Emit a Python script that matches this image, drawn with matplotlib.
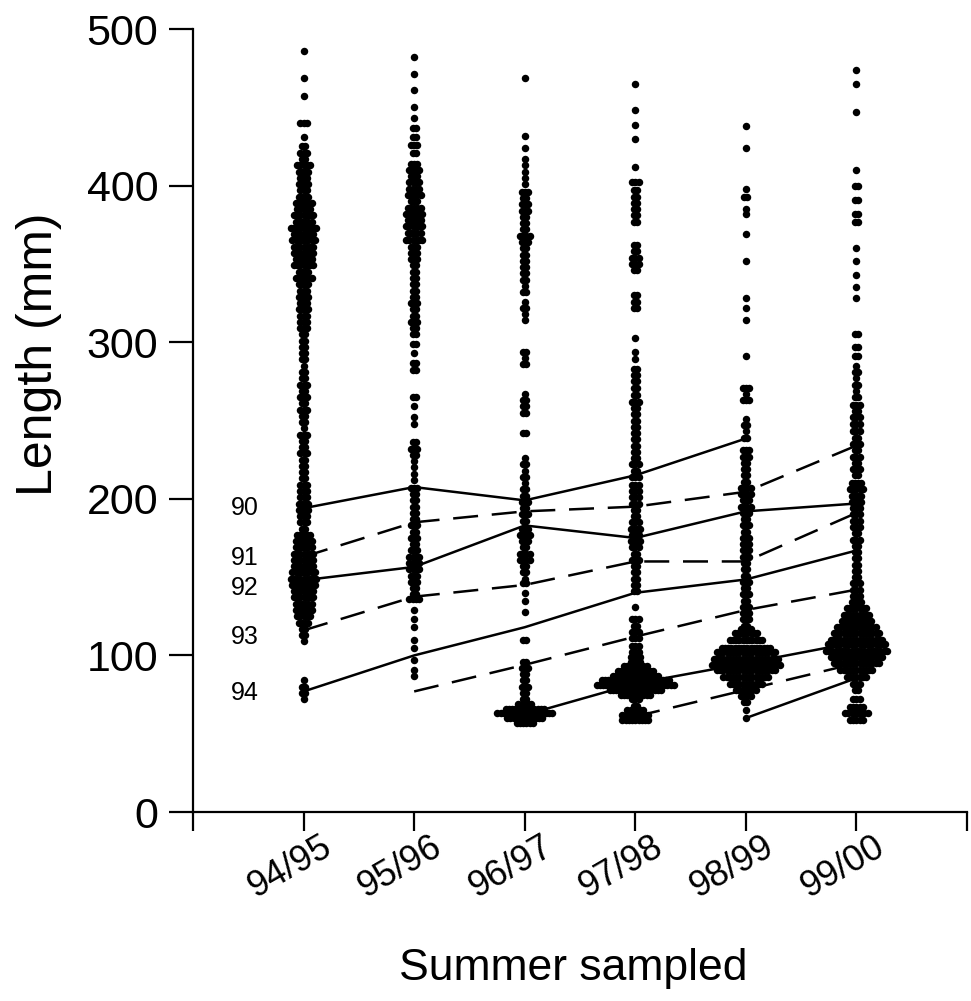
import numpy as np
import matplotlib.pyplot as plt
from matplotlib.transforms import ScaledTranslation

plt.rcParams["font.family"] = ["Liberation Sans", "DejaVu Sans"]

summers = ["94/95", "95/96", "96/97", "97/98", "98/99", "99/00"]

# Length-frequency rows per summer: (length in mm, number of fish at that length)
rows_9495 = [
    (486, 1), (469, 1), (457, 1), (440, 3), (431, 1),
    (425, 2), (421, 3), (417, 2), (413, 5), (409, 4), (405, 3), (401, 4), (397, 3),
    (393, 4), (389, 6), (385, 5), (381, 7), (377, 6), (373, 9), (369, 7), (365, 8),
    (361, 7), (357, 7), (353, 6), (349, 7), (345, 4), (341, 6), (337, 4), (333, 3),
    (329, 4), (325, 3), (321, 4), (317, 3), (313, 3), (309, 3), (305, 2), (301, 2),
    (297, 2), (293, 2), (289, 2), (285, 1), (281, 2), (277, 2), (273, 3), (269, 2),
    (265, 3), (261, 2), (257, 3), (253, 2), (249, 2), (245, 1), (241, 3), (237, 2),
    (233, 2), (229, 3), (225, 2), (221, 2), (217, 2), (213, 2), (209, 3), (205, 3),
    (201, 3), (197, 4), (193, 4), (189, 3), (185, 3), (181, 2), (177, 5), (173, 6),
    (169, 6), (165, 7), (161, 7), (157, 7), (153, 8), (149, 9), (145, 8), (141, 7),
    (137, 7), (133, 6), (129, 6), (125, 5), (121, 4), (117, 2), (113, 2), (109, 1),
    (84, 1), (80, 2), (76, 2), (72, 1),
]
rows_9596 = [
    (482, 1), (471, 1), (461, 1), (450, 1), (443, 1), (437, 2), (431, 2), (426, 3),
    (421, 2), (414, 3), (410, 4), (406, 3), (402, 4), (398, 4), (394, 5), (390, 3),
    (386, 5), (382, 6), (378, 5), (374, 6), (370, 5), (365, 6), (361, 3), (357, 3),
    (353, 3), (349, 2), (345, 2), (341, 2), (337, 2), (333, 2), (329, 2), (325, 3),
    (321, 2), (317, 2), (313, 3), (309, 2), (305, 2), (299, 2), (293, 1), (287, 2),
    (282, 2), (265, 2), (259, 1), (252, 1), (248, 1), (236, 2), (232, 3), (228, 2),
    (224, 1), (220, 1), (216, 1), (212, 1), (207, 3), (203, 2), (199, 2), (195, 2),
    (191, 2), (187, 2), (183, 3), (179, 2), (175, 3), (171, 2), (167, 3), (163, 4),
    (159, 4), (155, 4), (151, 3), (147, 3), (143, 2), (139, 2), (136, 4), (129, 1),
    (123, 1), (118, 1), (110, 1), (105, 1), (97, 1), (91, 1), (87, 1),
]
rows_9697 = [
    (469, 1), (432, 1), (424, 1), (417, 1), (413, 1), (409, 1), (405, 1), (401, 1),
    (396, 3), (392, 2), (388, 3), (384, 3), (380, 2), (376, 2), (372, 2), (368, 4),
    (364, 3), (360, 2), (356, 2), (352, 2), (348, 2), (344, 2), (340, 2), (336, 1),
    (332, 2), (326, 1), (322, 2), (318, 1), (314, 1), (294, 2), (290, 1), (286, 2),
    (267, 1), (263, 2), (259, 2), (255, 2), (242, 2), (226, 1), (222, 2), (218, 1),
    (214, 2), (210, 1), (206, 2), (202, 2), (198, 3), (194, 2), (190, 3), (186, 2),
    (181, 3), (177, 4), (173, 3), (169, 2), (165, 4), (161, 4), (157, 2), (153, 2),
    (149, 1), (146, 2), (140, 1), (135, 1), (128, 1), (110, 2), (96, 2), (92, 3),
    (88, 2), (84, 2), (80, 3), (76, 2), (72, 2), (69, 5), (66, 13), (63, 18),
    (60, 12), (57, 6),
]
rows_9798 = [
    (465, 1), (448, 1), (439, 1), (430, 1), (412, 1), (402, 3), (397, 2), (393, 2),
    (389, 2), (385, 2), (381, 2), (377, 2), (362, 2), (358, 2), (354, 3), (350, 3),
    (346, 2), (330, 2), (326, 2), (322, 2), (303, 1), (294, 1), (289, 1), (283, 2),
    (279, 2), (275, 2), (271, 2), (266, 2), (262, 3), (258, 2), (254, 2), (250, 2),
    (246, 2), (242, 2), (238, 2), (234, 2), (230, 2), (226, 2), (222, 3), (218, 2),
    (214, 3), (209, 3), (205, 3), (201, 3), (197, 3), (193, 2), (189, 2), (185, 3),
    (181, 4), (177, 3), (173, 4), (169, 3), (165, 2), (161, 3), (157, 2), (153, 2),
    (149, 2), (145, 2), (141, 2), (131, 1), (123, 3), (119, 2), (115, 3), (111, 3),
    (106, 3), (102, 3), (99, 4), (96, 4), (93, 8), (90, 12), (87, 15), (84, 22),
    (81, 25), (78, 17), (75, 10), (72, 3), (68, 2), (65, 6), (62, 9), (59, 9),
]
rows_9899 = [
    (438, 1), (424, 1), (398, 1), (393, 2), (385, 1), (382, 1), (369, 1), (352, 1),
    (328, 1), (322, 1), (314, 1), (291, 1), (271, 3), (267, 1), (263, 3), (251, 1),
    (247, 2), (243, 1), (239, 2), (231, 3), (227, 3), (223, 2), (219, 2), (215, 2),
    (211, 2), (207, 4), (203, 4), (199, 3), (195, 4), (191, 3), (187, 2), (183, 3),
    (179, 2), (175, 3), (171, 3), (167, 3), (163, 3), (159, 2), (155, 2), (151, 2),
    (147, 3), (143, 2), (139, 3), (135, 2), (131, 3), (127, 3), (123, 3), (119, 2),
    (117, 4), (114, 8), (110, 11), (105, 16), (102, 19), (98, 21), (94, 22), (91, 19),
    (86, 15), (82, 11), (78, 7), (74, 4), (70, 2), (65, 1), (60, 1),
]
rows_9900 = [
    (474, 1), (465, 1), (447, 1), (410, 1), (400, 2), (391, 2), (382, 2), (377, 2),
    (360, 1), (352, 1), (343, 1), (335, 1), (328, 1), (305, 2), (297, 2), (291, 2),
    (285, 1), (281, 2), (277, 1), (273, 2), (269, 1), (265, 2), (260, 3), (256, 2),
    (252, 3), (248, 3), (243, 3), (239, 2), (235, 3), (231, 2), (227, 3), (223, 2),
    (219, 3), (215, 2), (210, 4), (206, 5), (202, 4), (198, 4), (194, 3), (190, 3),
    (186, 3), (182, 3), (178, 2), (174, 3), (170, 2), (166, 2), (162, 2), (158, 2),
    (154, 2), (150, 2), (146, 3), (142, 3), (138, 3), (134, 4), (130, 7), (126, 9),
    (122, 10), (118, 13), (114, 15), (110, 17), (107, 19), (103, 20), (99, 17),
    (95, 15), (91, 11), (86, 7), (82, 3), (78, 2), (72, 3), (67, 5), (63, 8), (59, 5),
]
all_rows = [rows_9495, rows_9596, rows_9697, rows_9798, rows_9899, rows_9900]

# Mean length of each year class, from the summer it first appears
cohorts = ["90", "91", "92", "93", "94", "95", "96", "97", "98"]
first_summer = [0, 0, 0, 0, 0, 1, 2, 3, 4]
mean_90 = [194, 207.5, 199, 215, 238.5]
mean_91 = [163, 185, 192, 195, 204.5, 234]
mean_92 = [148, 156.5, 183, 175, 192, 197]
mean_93 = [116, 137.5, 145, 160, 160, 191]
mean_94 = [77, 100, 118, 140, 148.5, 167]
mean_95 = [77, 94, 112, 129, 142]
mean_96 = [62, 82, 95, 108.5]
mean_97 = [61, 78, 95]
mean_98 = [60, 85.5]
cohort_means = [mean_90, mean_91, mean_92, mean_93, mean_94,
                mean_95, mean_96, mean_97, mean_98]
labelled = ["90", "91", "92", "93", "94"]

fig = plt.figure(figsize=(9.71, 10.01), dpi=100)
ax = fig.add_axes([0.1988, 0.1888, 0.7971, 0.7822])

dot_step = 0.029  # horizontal spacing between fish in one row, x units
for i, rows in enumerate(all_rows):
    xs, ys = [], []
    for length, n in rows:
        offs = (np.arange(n) - (n - 1) / 2) * dot_step
        xs.extend(i + 1 + offs)
        ys.extend([length] * n)
    ax.scatter(xs, ys, s=29, c="black", marker="o", linewidths=0, zorder=2)

for k, (name, start, means) in enumerate(zip(cohorts, first_summer, cohort_means)):
    xs = np.arange(len(means)) + start + 1
    ls = "-" if k % 2 == 0 else (0, (10, 5.5))
    ax.plot(xs, means, color="black", lw=1.8, ls=ls, zorder=3)

nudge = [0, -1, -5, -4, -1]
for name, means, dy in zip(labelled, cohort_means, nudge):
    ax.text(0.47, means[0] + dy, name, fontsize=18, ha="center", va="center")

ax.set_xlim(0, 7)
ax.set_ylim(0, 500)
ax.set_yticks([0, 100, 200, 300, 400, 500])
ax.set_xticks(range(8))
ax.set_xticklabels([])

# slanted summer labels, shifted right of their ticks
shift = ScaledTranslation(0.25, -0.33, fig.dpi_scale_trans)
for i, s in enumerate(summers):
    ax.text(i + 1, 0, s, transform=ax.get_xaxis_transform() + shift,
            rotation=30, rotation_mode="anchor", ha="right", va="center",
            fontsize=26)

for side in ["top", "right"]:
    ax.spines[side].set_visible(False)
for side in ["left", "bottom"]:
    ax.spines[side].set_linewidth(1.6)
ax.tick_params(axis="y", length=17, width=1.6, labelsize=31, pad=8)
ax.tick_params(axis="x", length=14, width=1.6)

ax.set_ylabel("Length (mm)", fontsize=36)
ax.yaxis.set_label_coords(-0.169, 0.584)
ax.set_xlabel("Summer sampled", fontsize=32)
ax.xaxis.set_label_coords(0.491, -0.174)

fig.savefig("out.png", dpi=100)
